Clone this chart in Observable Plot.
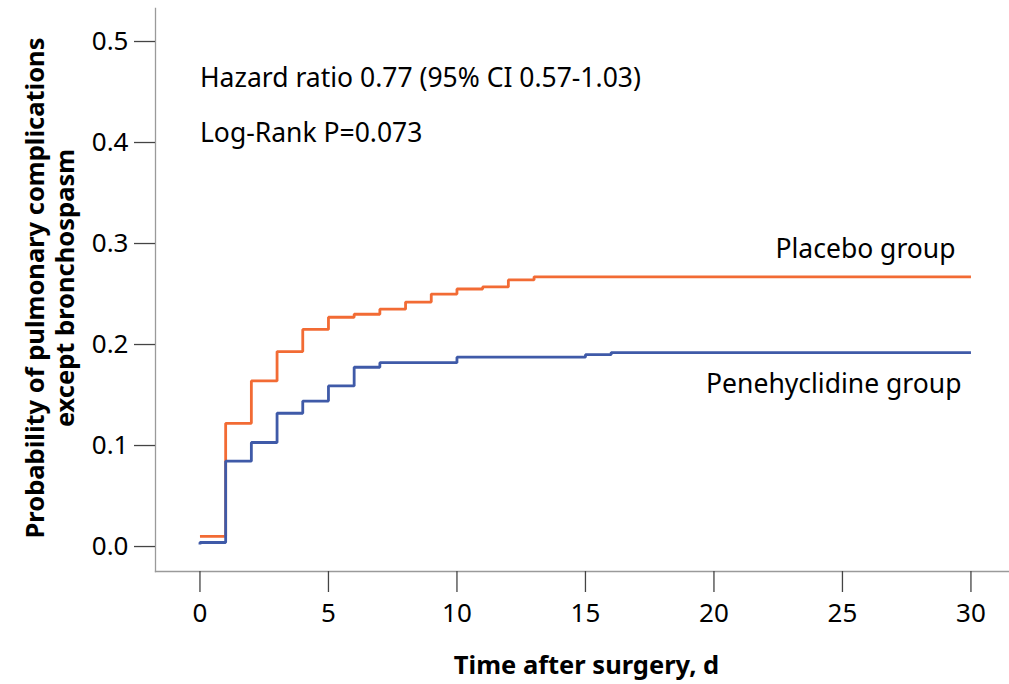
<!DOCTYPE html>
<html>
<head>
<meta charset="utf-8">
<script src="https://cdn.jsdelivr.net/npm/d3@7"></script>
<script src="https://cdn.jsdelivr.net/npm/@observablehq/plot@0.6"></script>
<style>
  html, body { margin: 0; padding: 0; background: #fff; }
</style>
</head>
<body>
<div id="chart"></div>
<script>
// ---- data ----
const groups = ["Placebo group", "Penehyclidine group"];
const placeboTimes  = [0, 1, 2, 3, 4, 5, 6, 7, 8, 9, 10, 11, 12, 13, 30];
const placeboValues = [0.008, 0.120, 0.162, 0.191, 0.213, 0.225, 0.228, 0.233, 0.240, 0.248, 0.253, 0.255, 0.262, 0.265, 0.265];
const penehyTimes   = [0, 0, 1, 2, 3, 4, 5, 6, 7, 10, 15, 16, 30];
const penehyValues  = [0, 0.002, 0.0825, 0.101, 0.130, 0.142, 0.157, 0.1755, 0.180, 0.1855, 0.188, 0.190, 0.190];
const xTicks = [0, 5, 10, 15, 20, 25, 30];
const yTicks = [0.0, 0.1, 0.2, 0.3, 0.4, 0.5];
const statTexts = ["Hazard ratio 0.77 (95% CI 0.57-1.03)", "Log-Rank P=0.073"];
const xTitle = "Time after surgery, d";
const yTitle = "Probability of pulmonary complications\nexcept bronchospasm";

// ---- build tables ----
const rows = [
  ...placeboTimes.map((t, i) => ({group: groups[0], t, p: placeboValues[i]})),
  ...penehyTimes.map((t, i) => ({group: groups[1], t, p: penehyValues[i]}))
];
// placement of annotations (data coordinates)
const statRows = [
  {text: statTexts[0], t: 0, p: 0.461},
  {text: statTexts[1], t: 0, p: 0.407}
];
const groupLabels = [
  {text: groups[0], t: 29.4, p: 0.292},
  {text: groups[1], t: 29.63, p: 0.158}
];

const chart = Plot.plot({
  width: 1009,
  height: 684,
  marginLeft: 155,
  marginRight: 0,
  marginTop: 8,
  marginBottom: 113,
  style: {fontFamily: "'Noto Sans', sans-serif", color: "#000", background: "#fff"},
  x: {domain: [-1.73, 31.5]},
  y: {domain: [-0.0267, 0.5307]},
  color: {domain: groups, range: ["#f26b34", "#3f5aa8"]},
  marks: [
    Plot.frame({anchor: "left", stroke: "#9a9a9a", strokeWidth: 1.3}),
    Plot.frame({anchor: "bottom", stroke: "#9a9a9a", strokeWidth: 1.3}),
    Plot.axisX({ticks: xTicks, tickSize: 21, tickPadding: 11, fontSize: 26, stroke: "#444", strokeWidth: 1.3, label: null, tickFormat: d => d}),
    Plot.axisY({ticks: yTicks, tickSize: 21, tickPadding: 6, fontSize: 26, stroke: "#444", strokeWidth: 1.3, label: null, tickFormat: d3.format(".1f"), dy: 2}),
    Plot.line(rows, {x: "t", y: "p", z: "group", stroke: "group", curve: "step-after", strokeWidth: 2.8, strokeLinejoin: "miter", strokeLinecap: "butt"}),
    Plot.text(statRows, {x: "t", y: "p", text: "text", textAnchor: "start", lineAnchor: "middle", fontSize: 26.5, fill: "#000"}),
    Plot.text(groupLabels, {x: "t", y: "p", text: "text", textAnchor: "end", lineAnchor: "middle", fontSize: 26.5, fill: "#000"}),
    Plot.text([xTitle], {frameAnchor: "bottom", dy: 94, dx: 4, lineAnchor: "middle", fontSize: 25.5, fontWeight: "bold", fill: "#000"}),
    Plot.text([yTitle], {frameAnchor: "left", dx: -106, dy: -2, rotate: -90, lineAnchor: "middle", textAnchor: "middle", lineHeight: 1.15, fontSize: 25.5, fontWeight: "bold", fill: "#000"})
  ]
});
document.getElementById("chart").appendChild(chart);
</script>
</body>
</html>
